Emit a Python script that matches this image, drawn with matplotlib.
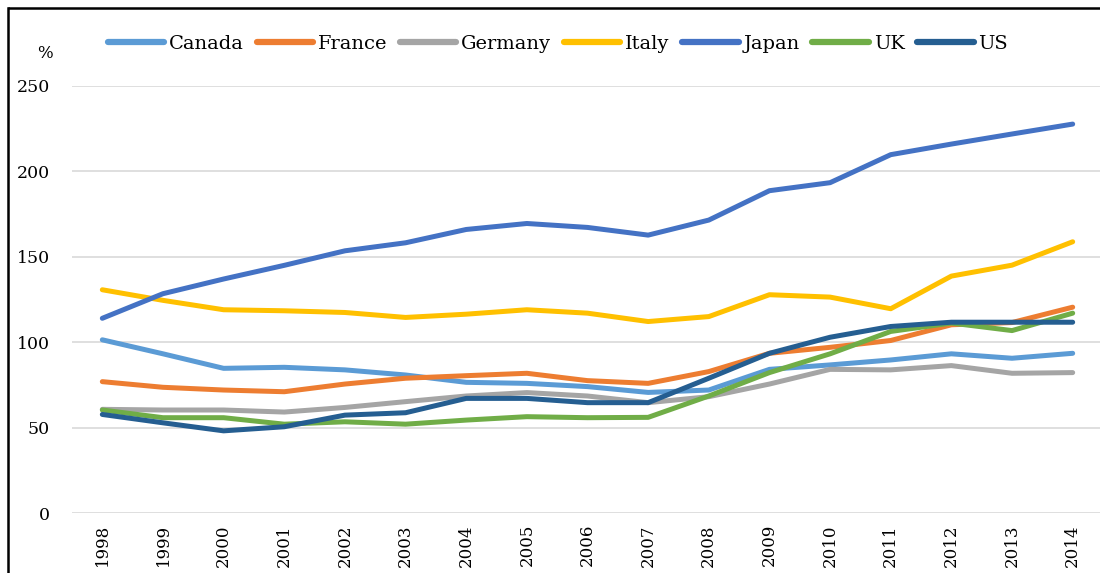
import matplotlib.pyplot as plt
from matplotlib.lines import Line2D

years = list(range(1998, 2015))

canada = [101.4, 93.2, 84.7, 85.3, 83.8, 80.8, 76.5, 75.9, 74.0, 70.6, 72.0,
          84.1, 86.7, 89.6, 93.2, 90.6, 93.5]
france = [76.9, 73.6, 72.0, 71.0, 75.5, 78.9, 80.4, 81.8, 77.5, 75.9, 82.8,
          93.5, 97.0, 101.0, 110.2, 111.5, 120.5]
germany = [60.7, 60.3, 60.3, 59.1, 61.8, 65.2, 68.5, 70.5, 68.5, 64.6, 68.1,
           75.5, 84.1, 83.8, 86.3, 81.8, 82.2]
italy = [130.7, 124.5, 119.0, 118.4, 117.4, 114.5, 116.4, 119.0, 117.0, 112.1,
         115.0, 127.8, 126.4, 119.6, 138.7, 145.1, 158.8]
japan = [114.0, 128.4, 137.0, 145.0, 153.5, 158.2, 166.0, 169.5, 167.2, 162.7,
         171.5, 188.7, 193.4, 209.8, 216.0, 221.9, 227.7]
uk = [60.3, 55.8, 55.8, 52.0, 53.4, 52.0, 54.4, 56.4, 55.8, 56.0, 68.5,
      82.2, 93.2, 106.3, 111.2, 106.8, 117.0]
us = [57.7, 52.8, 48.1, 50.5, 57.3, 58.7, 67.1, 67.1, 64.6, 64.6, 78.9,
      93.5, 102.9, 109.2, 111.7, 111.7, 111.7]

names = ["Canada", "France", "Germany", "Italy", "Japan", "UK", "US"]
colors = ["#5B9BD5", "#ED7D31", "#A5A5A5", "#FFC000", "#4472C4", "#70AD47", "#255E91"]
series = [canada, france, germany, italy, japan, uk, us]

plt.rcParams['font.family'] = ['DejaVu Serif']

fig = plt.figure(figsize=(11, 5.73), dpi=100)
ax = fig.add_axes([72/1100, 60/573, 1031/1100, 427/573])

xs = list(range(len(years)))
for vals, name, col in zip(series, names, colors):
    ax.plot(xs, vals, color=col, lw=3.6, label=name, solid_capstyle='round',
            solid_joinstyle='round')

ax.set_xlim(-0.5, 16.5)
ax.set_ylim(0, 250)
ax.set_yticks(range(0, 251, 50))
ax.set_xticks(xs)
ax.set_xticklabels([str(y) for y in years], rotation=90)
ax.tick_params(axis='x', length=0, pad=8, labelsize=12)
ax.tick_params(axis='y', length=0, pad=16, labelsize=12.5)
ax.grid(axis='y', color='#d9d9d9', lw=1.2)
ax.set_axisbelow(True)
for s in ax.spines.values():
    s.set_visible(False)

fig.text(45/1100, 1 - 53/573, "%", fontsize=12, ha='center', va='center')

leg = fig.legend(loc='center', bbox_to_anchor=(558/1100, 1 - 44/573), ncol=7,
                 frameon=False, fontsize=14, handlelength=2.9, handletextpad=0.25,
                 columnspacing=0.65)
for h in leg.get_lines():
    h.set_linewidth(4.5)
    h.set_solid_capstyle('round')

# outer frame: only the left and top edges show in the crop
x0 = 8/1100
y0 = 1 - 8/573
fig.add_artist(Line2D([x0, x0], [0, y0], transform=fig.transFigure,
                      color='black', lw=1.8))
fig.add_artist(Line2D([x0, 1.01], [y0, y0], transform=fig.transFigure,
                      color='black', lw=1.8, solid_capstyle='butt'))

fig.savefig("out.png", dpi=100)
